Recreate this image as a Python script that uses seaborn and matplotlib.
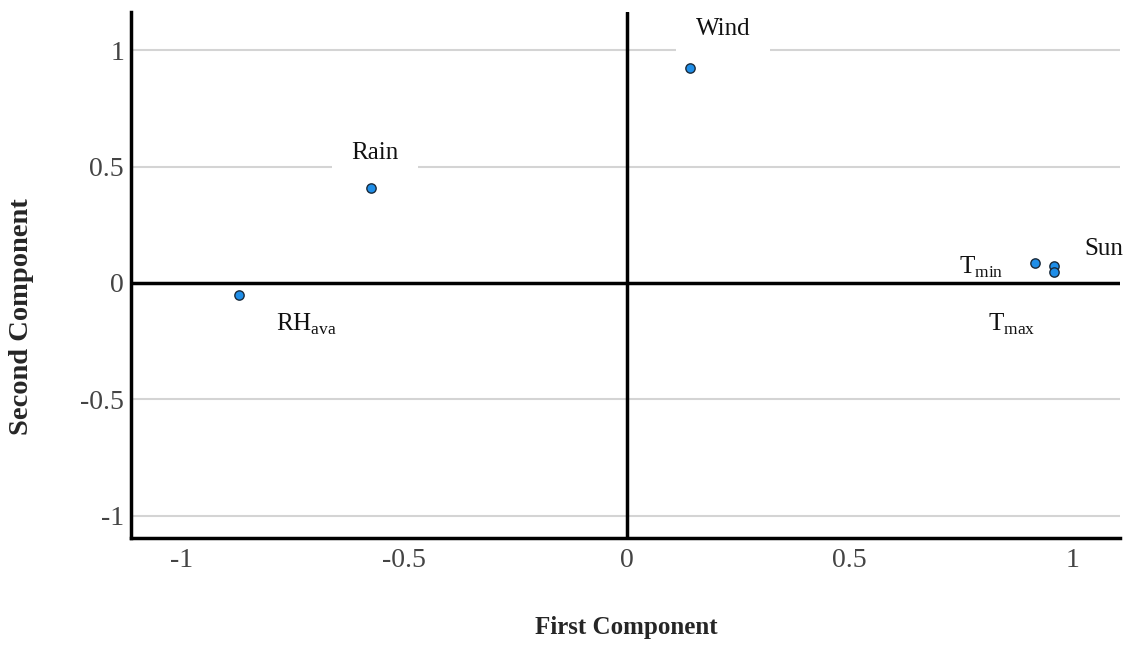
import numpy as np
import pandas as pd
import matplotlib
matplotlib.use('Agg')
import matplotlib.pyplot as plt
import seaborn as sns

# component loadings
variables = ['RHava', 'Rain', 'Wind', 'Tmin', 'Sun', 'Tmax']
first_comp = [-0.871, -0.575, 0.141, 0.916, 0.958, 0.958]
second_comp = [-0.052, 0.409, 0.925, 0.086, 0.073, 0.047]
label_text = [r'RH$_{\mathrm{ava}}$', 'Rain', 'Wind', r'T$_{\mathrm{min}}$', 'Sun', r'T$_{\mathrm{max}}$']
label_pos = [(-0.72, -0.18), (-0.565, 0.56), (0.216, 1.09), (0.795, 0.065), (1.07, 0.145), (0.865, -0.18)]

tick_vals = [-1, -0.5, 0, 0.5, 1]
tick_labels = ['-1', '-0.5', '0', '0.5', '1']

df = pd.DataFrame({'var': variables, 'first': first_comp, 'second': second_comp})

sns.set_style('white')
plt.rcParams['font.family'] = ['Liberation Serif', 'DejaVu Serif']
plt.rcParams['mathtext.fontset'] = 'custom'
plt.rcParams['mathtext.rm'] = 'Liberation Serif'

fig = plt.figure(figsize=(11.29, 6.46), dpi=100)
ax = fig.add_axes([0.116, 0.167, 0.876, 0.814])

for y in tick_vals:
    if y != 0:
        ax.axhline(y, color='#d4d4d4', lw=1.5, zorder=0)
ax.axhline(0, color='black', lw=2.5, zorder=2.5)
ax.axvline(0, color='black', lw=2.5, zorder=2.5)

sns.scatterplot(data=df, x='first', y='second', ax=ax, color='#1f8ee8',
                edgecolor='#1a2a3a', linewidth=1, s=45, zorder=3, legend=False)

for txt, (lx, ly) in zip(label_text, label_pos):
    ax.text(lx, ly, txt, fontsize=18, ha='center', va='center', zorder=2,
            color='#111111', bbox=dict(facecolor='white', edgecolor='none', pad=14))

ax.set_xlim(-1.113, 1.107)
ax.set_ylim(-1.097, 1.163)
ax.set_xticks(tick_vals)
ax.set_xticklabels(tick_labels)
ax.set_yticks(tick_vals)
ax.set_yticklabels(tick_labels)
ax.tick_params(labelsize=20, length=0, colors='#444444')
ax.tick_params(axis='x', pad=7)
ax.tick_params(axis='y', pad=5)
ax.set_xlabel('')
ax.set_ylabel('')

for s in ['top', 'right']:
    ax.spines[s].set_visible(False)
for s in ['left', 'bottom']:
    ax.spines[s].set_linewidth(2.5)
    ax.spines[s].set_color('black')

fig.text(0.555, 0.028, 'First Component', fontsize=18, fontweight='bold',
         ha='center', va='center')
fig.text(0.019, 0.51, 'Second Component', fontsize=20.5, fontweight='bold',
         ha='center', va='center', rotation=90)

fig.savefig('out.png', dpi=100)
